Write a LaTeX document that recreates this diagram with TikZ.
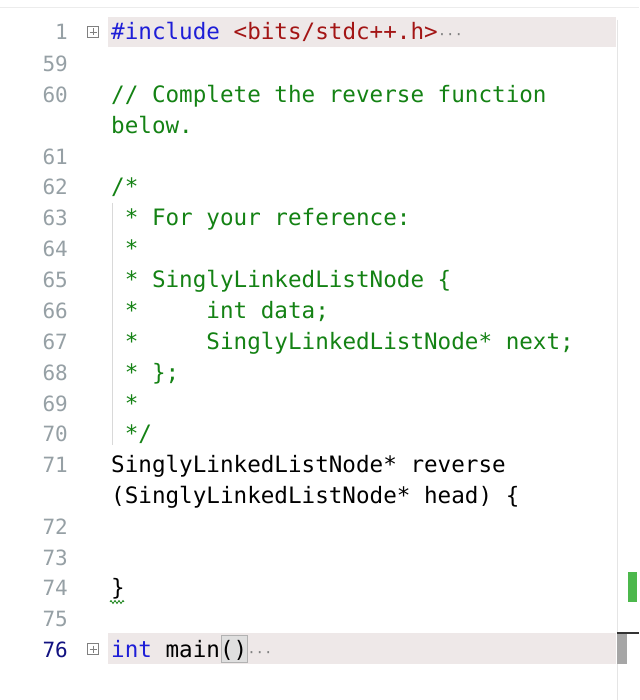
\documentclass[tikz,border=0pt]{standalone}
\usepackage{fontspec}
\setmonofont{DejaVu Sans Mono}
\usetikzlibrary{decorations.pathmorphing}
\definecolor{kw}{RGB}{30,30,215}
\definecolor{str}{RGB}{163,21,21}
\definecolor{cmt}{RGB}{20,130,20}
\definecolor{ln}{RGB}{150,160,165}
\definecolor{bar}{RGB}{238,232,232}
\begin{document}
\begin{tikzpicture}[x=1pt,y=-1pt,
  code/.style={anchor=base west,inner sep=0pt,font=\ttfamily\fontsize{22.6}{22.6}\selectfont},
  lnum/.style={anchor=base east,inner sep=0pt,text=ln,font=\ttfamily\fontsize{21}{21}\selectfont},
  plusbox/.style={draw=gray,fill=white,minimum size=11pt,inner sep=0pt,line width=0.6pt}]
\useasboundingbox (0,0) rectangle (639,700);
\fill[white] (0,0) rectangle (639,700);
\draw[gray!15,line width=1pt] (0,8) -- (639,8);
\fill[bar] (108,17) rectangle (616,47);
\fill[bar] (108,633) rectangle (616,664);
\draw[gray!20,line width=1pt] (617,20) -- (617,700);
\fill[green!60!black!70] (628,572) rectangle (637,602);
\fill[gray!70] (617,633) rectangle (627,664);
\draw[black!80,line width=2pt] (617,633) -- (639,633);
\draw[gray!30,line width=1pt] (112,203) -- (112,445);
% plus boxes
\node[plusbox] (p1) at (93,32) {};
\draw[gray,line width=0.6pt] (89.5,32) -- (96.5,32) (93,28.5) -- (93,35.5);
\node[plusbox] (p2) at (93,649) {};
\draw[gray,line width=0.6pt] (89.5,649) -- (96.5,649) (93,645.5) -- (93,652.5);
% line numbers
\foreach \n/\y in {1/32,59/64,60/95,61/157,62/187,63/218,64/249,65/279,66/310,67/341,68/372,69/403,70/433,71/464,72/526,73/557,74/587,75/618}
  \node[lnum] (n\n) at (68,\y+8) {\n};
\node[lnum,text=kw!60!black] (n76) at (68,657) {76};
% code
\fill[gray!25] (221,635) rectangle (247,662);
\draw[gray!60,line width=0.6pt] (221,635) rectangle (247,662);
\node[code] (c1) at (111,40) {\textcolor{kw}{\#include} \textcolor{str}{<bits/stdc++.h>}\textcolor{gray}{\fontsize{14}{14}\selectfont ···}};
\node[code,text=cmt] (c60) at (111,103) {// Complete the reverse function};
\node[code,text=cmt] (c60b) at (111,134) {below.};
\node[code,text=cmt] (c62) at (111,195) {/*};
\node[code,text=cmt] (c63) at (111,226) {~* For your reference:};
\node[code,text=cmt] (c64) at (111,257) {~*};
\node[code,text=cmt] (c65) at (111,287) {~* SinglyLinkedListNode \{};
\node[code,text=cmt] (c66) at (111,318) {~*~~~~~int data;};
\node[code,text=cmt] (c67) at (111,349) {~*~~~~~SinglyLinkedListNode* next;};
\node[code,text=cmt] (c68) at (111,380) {~* \};};
\node[code,text=cmt] (c69) at (111,411) {~*};
\node[code,text=cmt] (c70) at (111,441) {~*/};
\node[code] (c71) at (111,472) {SinglyLinkedListNode* reverse};
\node[code] (c71b) at (111,503) {(SinglyLinkedListNode* head) \{};
\node[code] (c74) at (111,595) {\}};
\draw[cmt,line width=0.8pt,decorate,decoration={zigzag,amplitude=1.5pt,segment length=4pt}] (110,602) -- (124,602);
\node[code] (c76) at (111,657) {\textcolor{kw}{int} main()\textcolor{gray}{\fontsize{14}{14}\selectfont ···}};
\end{tikzpicture}
\end{document}
